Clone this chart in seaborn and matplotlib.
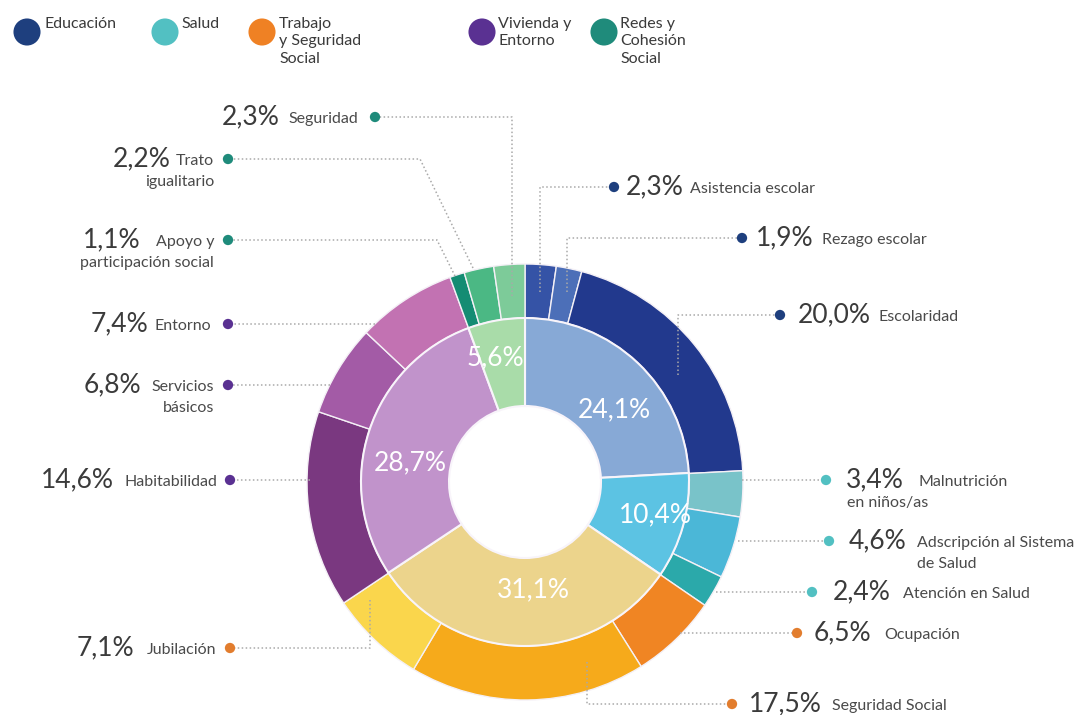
import matplotlib
matplotlib.use("Agg")
import matplotlib.pyplot as plt
import seaborn as sns

# ---------------- data ----------------
groups = ["Educación", "Salud", "Trabajo\ny Seguridad\nSocial", "Vivienda y\nEntorno", "Redes y\nCohesión\nSocial"]
group_vals = [24.1, 10.4, 31.1, 28.7, 5.6]
group_labels = ["24,1%", "10,4%", "31,1%", "28,7%", "5,6%"]

sub_names = ["Asistencia escolar", "Rezago escolar", "Escolaridad",
             "Malnutrición\nen niños/as", "Adscripción al Sistema\nde Salud", "Atención en Salud",
             "Ocupación", "Seguridad Social", "Jubilación",
             "Habitabilidad", "Servicios\nbásicos", "Entorno",
             "Apoyo y\nparticipación social", "Trato\nigualitario", "Seguridad"]
sub_vals = [2.3, 1.9, 20.0,
            3.4, 4.6, 2.4,
            6.5, 17.5, 7.1,
            14.6, 6.8, 7.4,
            1.1, 2.2, 2.3]
sub_pct = ["2,3%", "1,9%", "20,0%", "3,4%", "4,6%", "2,4%", "6,5%", "17,5%", "7,1%",
           "14,6%", "6,8%", "7,4%", "1,1%", "2,2%", "2,3%"]

# ---------------- styles ----------------
sns.set_theme(style="white")
plt.rcParams["font.family"] = ["Lato", "DejaVu Sans"]

inner_colors = sns.color_palette(["#87a9d6", "#5cc3e3", "#ecd48c", "#c193cb", "#a9dca9"])
outer_colors = sns.color_palette([
    "#3553a6", "#4c6fb8", "#22398d",
    "#79c3c9", "#4bb7d7", "#2ba9aa",
    "#f08523", "#f6aa1b", "#fad64c",
    "#7a3880", "#a35ba6", "#c272b2",
    "#148c73", "#4bb884", "#7dcb99"])
legend_colors = ["#1e3f7e", "#52c0c2", "#ef8124", "#5a3192", "#1f8b7b"]
dot_group = [0, 0, 0, 1, 1, 1, 2, 2, 2, 3, 3, 3, 4, 4, 4]

W, H = 1076, 715
fig = plt.figure(figsize=(W / 100, H / 100), dpi=100)
ax = fig.add_axes([0, 0, 1, 1])

cx, cy = 525, 482
R_out, R_mid, R_in = 218, 164, 76

ax.pie(sub_vals, radius=R_out, center=(cx, cy), startangle=-90, counterclock=True,
       colors=outer_colors, frame=True,
       wedgeprops=dict(width=R_out - R_mid, edgecolor="#f4f0f6", linewidth=1.0))
ax.pie(group_vals, radius=R_mid, center=(cx, cy), startangle=-90, counterclock=True,
       colors=inner_colors, frame=True,
       wedgeprops=dict(width=R_mid - R_in, edgecolor="#f8f4fa", linewidth=1.5))

ax.set_xlim(0, W)
ax.set_ylim(H, 0)
ax.set_aspect("equal", adjustable="box")
ax.axis("off")

# inner ring labels
inner_pos = [(614, 410), (655, 515), (533, 590), (410, 463), (495, 358)]
for (x, y), t in zip(inner_pos, group_labels):
    ax.text(x, y, t, color="white", fontsize=19, ha="center", va="center", zorder=6)

# ---------------- callouts ----------------
callouts = [
    ((614, 187), "R", [(540, 292), (540, 187)], 626, 690),
    ((742, 238), "R", [(567, 292), (567, 238)], 756, 822),
    ((780, 315), "R", [(678, 375), (678, 315)], 798, 878),
    ((826, 480), "R", [(742, 480)], 846, 918),
    ((829, 541), "R", [(738, 541)], 849, 917),
    ((812, 592), "R", [(716, 592)], 833, 903),
    ((797, 633), "R", [(680, 633)], 814, 884),
    ((732, 704), "R", [(587, 662), (587, 704)], 749, 832),
    ((230, 648), "L", [(370, 600), (370, 648)], 134, 216),
    ((230, 480), "L", [(310, 480)], 114, 217),
    ((228, 385), "L", [(330, 385)], 141, 214),
    ((228, 324), "L", [(375, 324)], 148, 211),
    ((228, 240), "L", [(455, 276), (437, 240)], 141, 214),
    ((228, 159), "L", [(473, 268), (420, 159)], 171, 214),
    ((375, 117), "L", [(512, 296), (512, 117)], 280, 358),
]
second_line = {3: (847, "left"), 4: (917, "left"), 10: (214, "right"), 12: (214, "right"), 13: (214, "right")}

pct_color = "#3b3b3b"
lab_color = "#4a4a4a"
for i, ((dx, dy), side, path, px, lx) in enumerate(callouts):
    pts = path + [(dx, dy)]
    xs = [p[0] for p in pts]
    ys = [p[1] for p in pts]
    ax.plot(xs, ys, color="#a9a9a9", lw=1.1, linestyle=(0, (1, 1.6)), zorder=7)
    col = legend_colors[dot_group[i]]
    if dot_group[i] == 2:
        col = "#e27d2e"
    ax.scatter([dx], [dy], s=55, color=col, zorder=8, edgecolor="none")
    lines = sub_names[i].split("\n")
    ha = "left" if side == "R" else "right"
    ax.text(px, dy, sub_pct[i], color=pct_color, fontsize=19, ha=ha, va="center", zorder=8)
    ax.text(lx, dy + 2, lines[0], color=lab_color, fontsize=11.5, ha=ha, va="center", zorder=8)
    if len(lines) > 1:
        sx, al = second_line[i]
        ax.text(sx, dy + 23, lines[1], color=lab_color, fontsize=11.5, ha=al, va="center", zorder=8)

# ---------------- legend ----------------
leg_circle_x = [27, 165, 262, 482, 604]
leg_text_x = [45, 181, 279, 498, 620]
for cxl, tx, c, g in zip(leg_circle_x, leg_text_x, legend_colors, groups):
    ax.scatter([cxl], [32], s=380, color=c, edgecolor="none", zorder=8)
    ax.text(tx, 17, g, color="#3a3a3a", fontsize=11.5, ha="left", va="top",
            linespacing=1.3, zorder=8)

fig.savefig("out.png", dpi=100)
